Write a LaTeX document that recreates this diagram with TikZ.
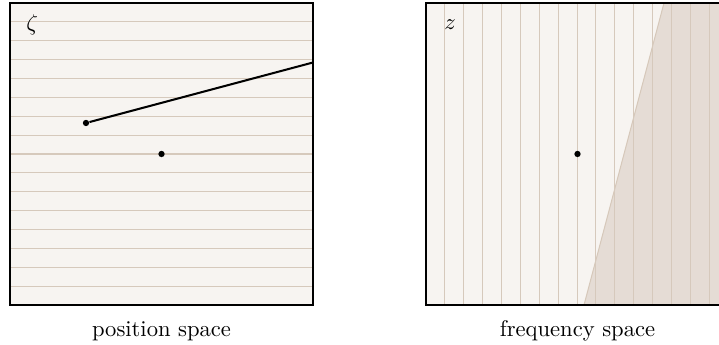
\documentclass[tikz,border=0pt]{standalone}
\definecolor{paper}{HTML}{F7F4F1}
\definecolor{gridc}{HTML}{D6C9BC}
\definecolor{shadec}{HTML}{E5DCD5}
\definecolor{shadeedge}{HTML}{D6C8BA}
\tikzset{
  frame/.style={draw=black, line width=1pt},
  gridline/.style={draw=gridc, line width=0.45pt},
  dotnode/.style={circle, fill=black, inner sep=0pt, minimum size=2.8pt},
  vec/.style={draw=black, line width=0.9pt},
  caption/.style={anchor=base, inner sep=0pt},
  corner/.style={anchor=base west, inner sep=0pt}
}
\begin{document}
\begin{tikzpicture}[x=0.4425pt,y=-0.4425pt]
\useasboundingbox (0,0) rectangle (719,345);
% left panel
\fill[paper] (10,3) rectangle (313,305);
\foreach \k in {1,...,15} \draw[gridline] (10,{3+18.875*\k}) -- (313,{3+18.875*\k});
\draw[frame] (10,3) rectangle (313,305);
% right panel
\begin{scope}
\clip (0,0) rectangle (719,345);
\fill[paper] (426,3) rectangle (728,305);
\filldraw[fill=shadec, draw=shadeedge, line width=0.45pt] (664,3) -- (728,3) -- (728,305) -- (584,305) -- cycle;
\foreach \k in {1,...,15} \draw[gridline] ({426+18.875*\k},3) -- ({426+18.875*\k},305);
\draw[frame] (426,3) rectangle (728,305);
\end{scope}
% labels
\node[corner] (zeta) at (26,31) {$\zeta$};
\node[corner] (zz) at (444,30) {$z$};
\node[caption] (lp) at (161.5,337) {position space};
\node[caption] (lf) at (577.5,337) {frequency space};
% points
\node[dotnode] (a) at (86,123) {};
\node[dotnode] (c1) at (161.5,154) {};
\node[dotnode] (c2) at (577.5,154) {};
\coordinate (e) at (313,62.5);
\draw[vec] (a) -- (e);
\end{tikzpicture}
\end{document}
